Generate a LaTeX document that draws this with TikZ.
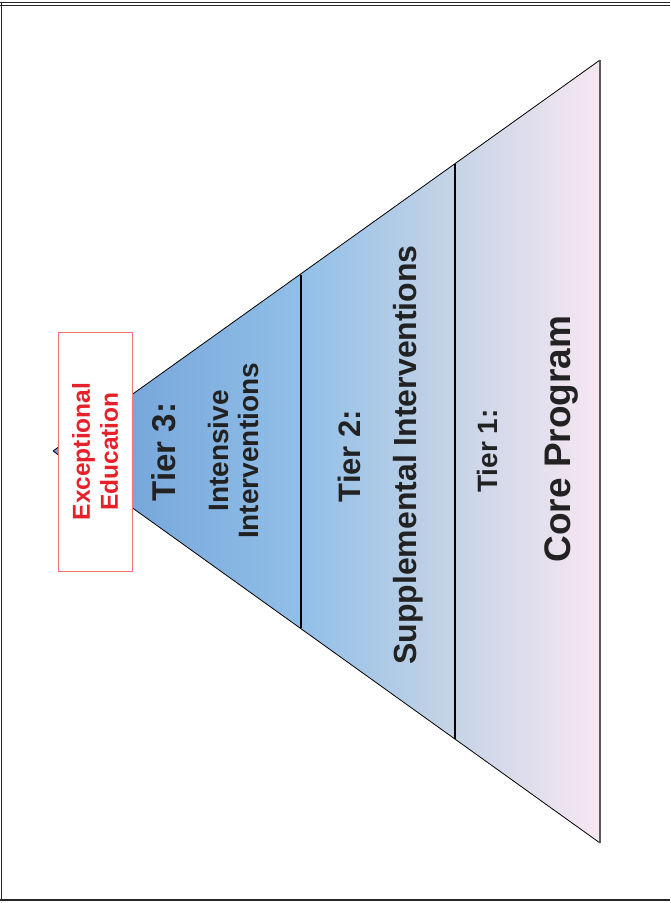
\documentclass[tikz,border=0pt]{standalone}
\usepackage{fontspec}
\setmainfont{Liberation Sans}
\definecolor{cA}{HTML}{6C9DD5}
\definecolor{cB}{HTML}{91BFE8}
\definecolor{cC}{HTML}{C6D4E6}
\definecolor{cD}{HTML}{F8E7F2}
\definecolor{exred}{HTML}{E8202A}
\definecolor{exborder}{HTML}{F07378}
\definecolor{txt}{HTML}{222222}
\pgfdeclarehorizontalshading{pyr}{100bp}{color(0bp)=(cA); color(25bp)=(cA); color(47.7bp)=(cB); color(61.7bp)=(cC); color(75bp)=(cD); color(100bp)=(cD)}
\tikzset{
  lbl/.style={rotate=90, anchor=base, inner sep=0pt, text=txt, font=\bfseries\fontsize{#1}{#1}\selectfont},
  divider/.style={line width=2.4pt, black},
  exbox/.style={rotate=90, draw=exborder, line width=0.8pt, fill=white, minimum width=239pt, minimum height=74pt, inner sep=0pt, align=center, text=exred, font=\bfseries\fontsize{24.5}{28}\selectfont},
  framel/.style={black!85}
}
\begin{document}
\begin{tikzpicture}[x=1pt, y=-1pt]
\fill[white] (0,0) rectangle (670,903);
\useasboundingbox (0,0) rectangle (670,903);
% frame
\draw[framel, line width=1.6pt] (1.5,1.5) -- (1.5,900);
\draw[framel, line width=1pt] (0,2.5) -- (670,2.5);
\draw[framel, line width=1pt] (0,5.5) -- (670,5.5);
\draw[framel, line width=2pt] (0,899.5) -- (670,899.5);
% pyramid
\coordinate (apex) at (53,451);
\coordinate (tr) at (600,60);
\coordinate (br) at (600,843);
\coordinate (d1t) at (301,275);
\coordinate (d1b) at (301,628);
\coordinate (d2t) at (455,164);
\coordinate (d2b) at (455,739);
\begin{scope}
\clip (apex) -- (tr) -- (br) -- cycle;
\shade[shading=pyr] (53,60) rectangle (600,843);
\end{scope}
\draw[line width=0.8pt] (apex) -- (tr);
\draw[line width=0.8pt] (apex) -- (br);
\draw[line width=1.5pt, black!65] (tr) -- (br);
\draw[divider] (d1t) -- (d1b);
\draw[divider] (d2t) -- (d2b);
% box
\node[exbox] (exc) at (95,451.5) {Exceptional\\Education};
% labels
\node[lbl=33] (t3) at (175,452) {Tier 3:};
\node[lbl=28] (t3a) at (228,451) {Intensive};
\node[lbl=28] (t3b) at (258,451) {Interventions};
\node[lbl=31] (t2) at (360,456) {Tier 2:};
\node[lbl=32] (t2a) at (416,455) {Supplemental Interventions};
\node[lbl=28] (t1) at (497,451) {Tier 1:};
\node[lbl=37] (t1a) at (570,439) {Core Program};
\end{tikzpicture}
\end{document}
